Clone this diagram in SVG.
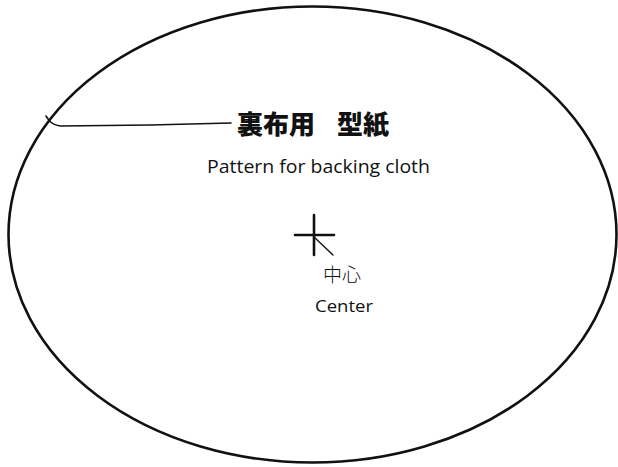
<svg xmlns="http://www.w3.org/2000/svg" width="618" height="467" viewBox="0 0 618 467">
<style>
.ln{fill:none;stroke:#111;stroke-linecap:round}
.jp{font-family:"Noto Sans CJK JP","Noto Sans CJK SC",sans-serif;fill:#111}
.en{font-family:"Open Sans","Liberation Sans",sans-serif;fill:#111}
</style>
<rect width="618" height="467" fill="#fff"/>
<g id="outline">
<ellipse class="ln" cx="312.5" cy="234.5" rx="304" ry="228" stroke-width="2.6"/>
</g>
<g id="connectors">
<path class="ln" stroke-width="1.6" d="M46,116 C49,121 52,125 60,126 L150,125 L231,123"/>
<path class="ln" stroke-width="1.4" d="M314,237 L333,255"/>
</g>
<g id="title">
<text class="jp" x="237" y="134" font-size="26" font-weight="900">裏布用<tspan x="337">型紙</tspan></text>
<text class="en" x="207" y="173" font-size="18.5" textLength="223" lengthAdjust="spacingAndGlyphs">Pattern for backing cloth</text>
</g>
<g id="center">
<path class="ln" stroke-width="2.6" d="M314,215 L314,255 M295,235 L334,235" stroke-linecap="butt"/>
<text class="jp" x="323" y="282" font-size="19" font-weight="300">中心</text>
<text class="en" x="315" y="312" font-size="17" textLength="58" lengthAdjust="spacingAndGlyphs">Center</text>
</g>
</svg>
